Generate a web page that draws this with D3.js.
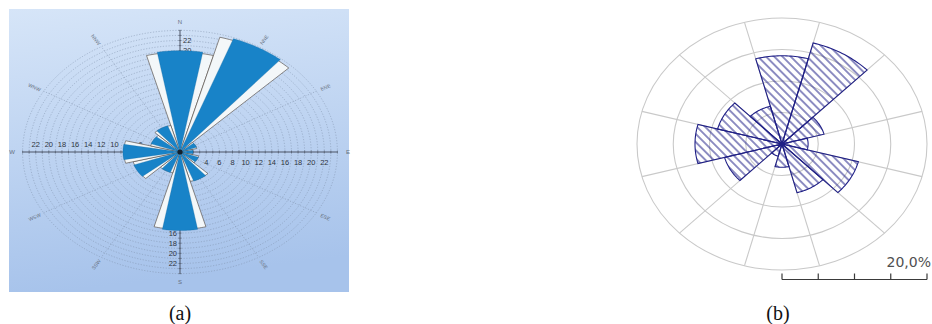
<!DOCTYPE html>
<html>
<head>
<meta charset="utf-8">
<script src="https://cdn.jsdelivr.net/npm/d3@7"></script>
<style>
  html, body { margin: 0; padding: 0; background: #ffffff; }
  svg { display: block; }
</style>
</head>
<body>
<svg id="chart" width="932" height="324"></svg>
<script>
// Sector directions (degrees clockwise from north), 12 sectors of 30°
const directions = [0, 30, 60, 90, 120, 150, 180, 210, 240, 270, 300, 330];
const directionNames = ["N", "NNE", "ENE", "E", "ESE", "SSE", "S", "SSW", "WSW", "W", "WNW", "NNW"];

// Rose (a): frequency per sector
const roseA = [20, 23.8, 2.7, 2, 3, 6.1, 15.5, 4.3, 7.5, 8.7, 4.7, 5.5];
// Rose (b): percentage per sector
const roseB = [14, 16.6, 6, 3.6, 10.9, 8, 3.7, 2, 8.2, 12, 9.2, 6.2];

// Axis tick labels for rose (a)
const tickValuesA = [2, 4, 6, 8, 10, 12, 14, 16, 18, 20, 22];
// Rings of rose (b), in percent
const ringsB = [5, 10, 15, 20];
const scaleBarTicks = [0, 5, 10, 15, 20];
const scaleBarLabel = "20,0%";
const captions = ["(a)", "(b)"];

const svg = d3.select("#chart");
const rad = d => d * Math.PI / 180;

// Polygon of an elliptical wedge: centre, then arc from a0 to a1 at value v
function wedgePoints(cx, cy, sx, sy, v, a0, a1) {
  const pts = [[cx, cy]];
  const n = 24;
  for (let i = 0; i <= n; i++) {
    const a = rad(a0 + (a1 - a0) * i / n);
    pts.push([cx + sx(v) * Math.sin(a), cy - sy(v) * Math.cos(a)]);
  }
  return pts;
}
const closedLine = d3.line().curve(d3.curveLinearClosed);

const defs = svg.append("defs");

// ---------------- Panel (a) ----------------
const grad = defs.append("linearGradient").attr("id", "bgA")
  .attr("x1", 0).attr("y1", 0).attr("x2", 0.15).attr("y2", 1);
grad.append("stop").attr("offset", "0%").attr("stop-color", "#d6e5f8");
grad.append("stop").attr("offset", "100%").attr("stop-color", "#a7c3eb");

const gA = svg.append("g");
gA.append("rect").attr("x", 9).attr("y", 9).attr("width", 340).attr("height", 283)
  .attr("fill", "url(#bgA)");

const cxA = 180, cyA = 152;
const sxA = d3.scaleLinear().domain([0, 22]).range([0, 144.3]);
const syA = d3.scaleLinear().domain([0, 22]).range([0, 111.5]);
const maxA = 24;

// dashed rings
gA.append("g").selectAll("ellipse").data(d3.range(1, maxA + 1)).join("ellipse")
  .attr("cx", cxA).attr("cy", cyA)
  .attr("rx", d => sxA(d)).attr("ry", d => syA(d))
  .attr("fill", "none").attr("stroke", "#7d8ea8").attr("stroke-width", 0.6)
  .attr("stroke-dasharray", "1.2,1.6").attr("opacity", 0.85);

// dashed spokes
gA.append("g").selectAll("line").data(directions.filter(d => d % 90 !== 0)).join("line")
  .attr("x1", cxA).attr("y1", cyA)
  .attr("x2", d => cxA + sxA(maxA) * Math.sin(rad(d)))
  .attr("y2", d => cyA - syA(maxA) * Math.cos(rad(d)))
  .attr("stroke", "#7d8ea8").attr("stroke-width", 0.6)
  .attr("stroke-dasharray", "1.2,1.6").attr("opacity", 0.85);

// main axes
const axisCol = "#4c5566";
gA.append("line").attr("x1", cxA - sxA(maxA)).attr("x2", cxA + sxA(maxA))
  .attr("y1", cyA).attr("y2", cyA).attr("stroke", axisCol).attr("stroke-width", 1);
gA.append("line").attr("y1", cyA - syA(maxA)).attr("y2", cyA + syA(maxA))
  .attr("x1", cxA).attr("x2", cxA).attr("stroke", axisCol).attr("stroke-width", 1);

// minor tick marks on the axes
const unitTicks = d3.range(1, maxA + 1);
const tickG = gA.append("g").attr("stroke", axisCol).attr("stroke-width", 0.6);
[1, -1].forEach(s => {
  tickG.append("g").selectAll("line").data(unitTicks).join("line")
    .attr("x1", d => cxA + s * sxA(d)).attr("x2", d => cxA + s * sxA(d))
    .attr("y1", cyA - 1.5).attr("y2", cyA + 1.5);
  tickG.append("g").selectAll("line").data(unitTicks).join("line")
    .attr("y1", d => cyA + s * syA(d)).attr("y2", d => cyA + s * syA(d))
    .attr("x1", cxA - 1.5).attr("x2", cxA + 1.5);
});

// tick labels
const tickFont = { "font-family": "Arial, 'Liberation Sans', sans-serif", "font-size": "7.5px", "fill": "#2e3440" };
function styleText(sel, st) { Object.entries(st).forEach(([k, v]) => sel.attr(k, v)); return sel; }
styleText(gA.append("g").selectAll("text").data(tickValuesA).join("text")
  .attr("x", d => cxA + sxA(d)).attr("y", cyA + 12.5).attr("text-anchor", "middle")
  .text(d => d), tickFont);
styleText(gA.append("g").selectAll("text").data(tickValuesA).join("text")
  .attr("x", d => cxA - sxA(d)).attr("y", cyA - 5.5).attr("text-anchor", "middle")
  .text(d => d), tickFont);
styleText(gA.append("g").selectAll("text").data(tickValuesA).join("text")
  .attr("x", cxA + 3).attr("y", d => cyA - syA(d) + 2.7).attr("text-anchor", "start")
  .text(d => d), tickFont);
styleText(gA.append("g").selectAll("text").data(tickValuesA).join("text")
  .attr("x", cxA - 3).attr("y", d => cyA + syA(d) + 2.7).attr("text-anchor", "end")
  .text(d => d), tickFont);

// compass labels around the rose
const labR = 25.6;
gA.append("g").selectAll("text").data(directions).join("text")
  .attr("font-family", "Arial, 'Liberation Sans', sans-serif")
  .attr("font-size", d => d % 90 === 0 ? "6px" : "5px")
  .attr("fill", "#66707e").attr("text-anchor", "middle").attr("dominant-baseline", "central")
  .attr("transform", d => {
    const x = cxA + sxA(labR) * Math.sin(rad(d));
    const y = cyA - syA(labR) * Math.cos(rad(d));
    if (d % 90 === 0) return `translate(${x},${y})`;
    let r = Math.atan2(y - cyA, x - cxA) * 180 / Math.PI;
    if (r > 90) r -= 180;
    if (r < -90) r += 180;
    return `translate(${x},${y}) rotate(${r})`;
  })
  .text((d, i) => directionNames[i]);

// bars: pale full-width sector with dark rim, blue narrower sector on top
const barsA = gA.append("g");
barsA.selectAll("path.rim").data(roseA).join("path").attr("class", "rim")
  .attr("d", (v, i) => closedLine(wedgePoints(cxA, cyA, sxA, syA, v * 0.985, directions[i] - 15, directions[i] + 15)))
  .attr("fill", "#f3f7f9").attr("stroke", "#4a4038").attr("stroke-width", 0.6)
  .attr("stroke-linejoin", "round");
barsA.selectAll("path.core").data(roseA).join("path").attr("class", "core")
  .attr("d", (v, i) => closedLine(wedgePoints(cxA, cyA, sxA, syA, v, directions[i] - 10, directions[i] + 10)))
  .attr("fill", "#1883c8").attr("stroke", "#15659c").attr("stroke-width", 0.3);
gA.append("circle").attr("cx", cxA).attr("cy", cyA).attr("r", 2.6).attr("fill", "#14202c");

// ---------------- Panel (b) ----------------
const cxB = 782, cyB = 144;
const sxB = d3.scaleLinear().domain([0, 20]).range([0, 145]);
const syB = d3.scaleLinear().domain([0, 20]).range([0, 126]);
const navy = "#1f1f86";

const hatch = defs.append("pattern").attr("id", "hatchB")
  .attr("patternUnits", "userSpaceOnUse").attr("width", 5.8).attr("height", 5.8)
  .attr("patternTransform", "rotate(-45)");
hatch.append("line").attr("x1", 2.9).attr("x2", 2.9).attr("y1", 0).attr("y2", 5.8)
  .attr("stroke", navy).attr("stroke-width", 1);

const gB = svg.append("g");
gB.append("g").selectAll("ellipse").data(ringsB).join("ellipse")
  .attr("cx", cxB).attr("cy", cyB)
  .attr("rx", d => sxB(d)).attr("ry", d => syB(d))
  .attr("fill", "none").attr("stroke", "#c9c9c9").attr("stroke-width", 1.1);
gB.append("g").selectAll("line").data(directions).join("line")
  .attr("x1", cxB).attr("y1", cyB)
  .attr("x2", d => cxB + sxB(20) * Math.sin(rad(d + 15)))
  .attr("y2", d => cyB - syB(20) * Math.cos(rad(d + 15)))
  .attr("stroke", "#c9c9c9").attr("stroke-width", 1.1);

gB.append("g").selectAll("path").data(roseB).join("path")
  .attr("d", (v, i) => closedLine(wedgePoints(cxB, cyB, sxB, syB, v, directions[i] - 15, directions[i] + 15)))
  .attr("fill", "url(#hatchB)").attr("stroke", navy).attr("stroke-width", 1.1)
  .attr("stroke-linejoin", "miter");
gB.append("circle").attr("cx", cxB).attr("cy", cyB).attr("r", 2.6).attr("fill", navy);

// scale bar
const barY = 279.5;
gB.append("line").attr("x1", cxB + sxB(0)).attr("x2", cxB + sxB(20))
  .attr("y1", barY).attr("y2", barY).attr("stroke", "#3a3a3a").attr("stroke-width", 1.2);
gB.append("g").selectAll("line").data(scaleBarTicks).join("line")
  .attr("x1", d => cxB + sxB(d)).attr("x2", d => cxB + sxB(d))
  .attr("y1", barY).attr("y2", barY - 6).attr("stroke", "#3a3a3a").attr("stroke-width", 1.2);
gB.append("text").attr("x", 931).attr("y", 266.5).attr("text-anchor", "end")
  .attr("font-family", "'DejaVu Sans', Verdana, sans-serif").attr("font-size", "14px")
  .attr("fill", "#505050").text(scaleBarLabel);

// captions
svg.append("g").selectAll("text").data(captions).join("text")
  .attr("x", (d, i) => i === 0 ? 180 : 778).attr("y", 320)
  .attr("text-anchor", "middle")
  .attr("font-family", "'Liberation Serif', 'Times New Roman', serif").attr("font-size", "20px")
  .attr("fill", "#111").text(d => d);
</script>
</body>
</html>
